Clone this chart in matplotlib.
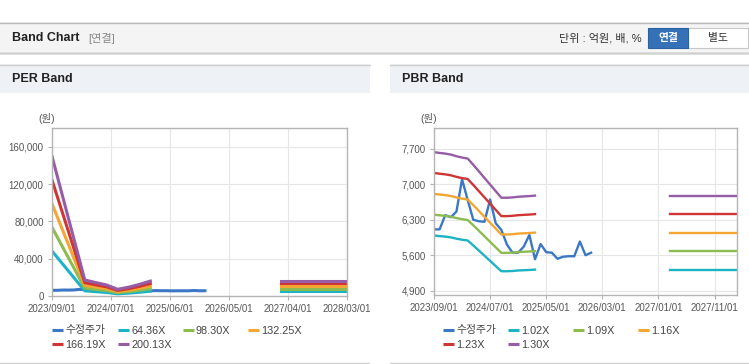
import matplotlib
matplotlib.use("Agg")
import matplotlib.pyplot as plt
from matplotlib.patches import Rectangle
from matplotlib.ticker import FuncFormatter

plt.rcParams['font.family'] = ['Liberation Sans', 'Noto Sans CJK KR']

# months counted from 2023/09
price_months = list(range(0, 29))
price = [6110, 6110, 6390, 6350, 6460, 7100, 6690, 6300, 6270, 6260,
         6700, 6230, 6100, 5810, 5650, 5650, 5770, 6000, 5520, 5820,
         5660, 5650, 5530, 5570, 5580, 5580, 5870, 5600, 5650]

# PER band: eps read at the band vertices
eps_months = [0, 6, 8, 10, 12, 14, 16, 18]
eps = [748, 86, 72, 59, 36, 47, 62, 80]
eps_fwd_months = [42, 54]
eps_fwd = [81, 81]
per_multiples = [64.36, 98.30, 132.25, 166.19, 200.13]
per_labels = ["64.36X", "98.30X", "132.25X", "166.19X", "200.13X"]

# PBR band: bps per month
bps_months = list(range(0, 19))
bps = [5872, 5860, 5850, 5835, 5810, 5790, 5775, 5680, 5580, 5480,
       5380, 5280, 5180, 5180, 5185, 5195, 5200, 5205, 5212]
bps_fwd_months = [42, 54]
bps_fwd = [5212, 5212]
pbr_multiples = [1.02, 1.09, 1.16, 1.23, 1.30]
pbr_labels = ["1.02X", "1.09X", "1.16X", "1.23X", "1.30X"]

per_ticks = [0, 10.8, 21.6, 32.4, 43.2, 54]
per_ticklabels = ["2023/09/01", "2024/07/01", "2025/06/01", "2026/05/01", "2027/04/01", "2028/03/01"]
pbr_ticks = [0, 10, 20, 30, 40, 50]
pbr_ticklabels = ["2023/09/01", "2024/07/01", "2025/05/01", "2026/03/01", "2027/01/01", "2027/11/01"]

price_color = "#3a78c6"
band_colors = ["#1db3c4", "#8cbb4f", "#f3a632", "#cf3535", "#965ca6"]

W, H = 749, 364
fig = plt.figure(figsize=(W / 100, H / 100), dpi=100)
fig.patch.set_facecolor("white")

# background axes in pixel coords
bg = fig.add_axes([0, 0, 1, 1])
bg.set_xlim(0, W)
bg.set_ylim(H, 0)
bg.axis("off")

# header bar
bg.add_patch(Rectangle((0, 52), W, 3, color="#e2e2e2", lw=0))
bg.add_patch(Rectangle((0, 22), W, 30, facecolor="#f4f4f4", edgecolor="none"))
bg.plot([0, W], [22.5, 22.5], color="#b8b8b8", lw=1)
bg.plot([0, W], [52.5, 52.5], color="#cfcfcf", lw=1)
bg.text(12, 38, "Band Chart", fontsize=9, fontweight="bold", color="#222", va="center")
bg.text(88, 38.5, "[연결]", fontsize=8, color="#888", va="center")
bg.text(642, 38.5, "단위 : 억원, 배, %", fontsize=8, color="#333", va="center", ha="right")
bg.add_patch(Rectangle((688, 28), 60, 20, facecolor="white", edgecolor="#c8c8c8", lw=0.8))
bg.add_patch(Rectangle((648, 28), 40, 20, facecolor="#3471b6", edgecolor="#2b619e", lw=0.8))
bg.text(668, 38.5, "연결", fontsize=7.8, fontweight="bold", color="white", ha="center", va="center")
bg.text(718, 38.5, "별도", fontsize=7.8, color="#333", ha="center", va="center")

# panel title bars
for x0, x1, title in [(0, 370, "PER Band"), (390, W, "PBR Band")]:
    bg.add_patch(Rectangle((x0, 64), x1 - x0, 29, facecolor="#eef1f6", edgecolor="none"))
    bg.plot([x0, x1], [64.5, 64.5], color="#d0d0d0", lw=1)
    bg.plot([x0, x1], [362.5, 362.5], color="#d0d0d0", lw=1)
    bg.text(x0 + 12, 79, title, fontsize=9, fontweight="bold", color="#222", va="center")

bg.text(47, 118, "(원)", fontsize=7.5, color="#555", ha="center", va="center")
bg.text(429, 118, "(원)", fontsize=7.5, color="#555", ha="center", va="center")


def legend(x_starts, y_rows, labels, colors):
    for i, (lab, col) in enumerate(zip(labels, colors)):
        x = x_starts[i % 4]
        y = y_rows[i // 4]
        bg.plot([x, x + 11], [y, y], color=col, lw=2.2, solid_capstyle="butt")
        bg.text(x + 13, y + 0.5, lab, fontsize=7.8, color="#444", va="center")


def style_axes(ax, ticks, ticklabels):
    ax.set_xlim(0, 54)
    ax.set_xticks(ticks)
    ax.set_xticklabels(ticklabels)
    ax.grid(True, color="#e6e6e6", lw=0.8)
    ax.set_axisbelow(True)
    for s in ax.spines.values():
        s.set_color("#b4b4b4")
        s.set_linewidth(1)
    ax.tick_params(axis="both", length=3, color="#b4b4b4", labelsize=7, labelcolor="#555", pad=3)
    ax.set_facecolor("white")


def px_axes(x0, y0, x1, y1):
    return fig.add_axes([x0 / W, 1 - y1 / H, (x1 - x0) / W, (y1 - y0) / H])


# PER chart
ax1 = px_axes(52, 128, 347, 296)
ax1.plot(price_months, price, color=price_color, lw=2.2)
for m, col in zip(per_multiples, band_colors):
    ax1.plot(eps_months, [e * m for e in eps], color=col, lw=2.2)
    ax1.plot(eps_fwd_months, [e * m for e in eps_fwd], color=col, lw=2.2)
ax1.set_ylim(0, 180000)
ax1.set_yticks([0, 40000, 80000, 120000, 160000])
ax1.yaxis.set_major_formatter(FuncFormatter(lambda v, p: f"{int(v):,}"))
style_axes(ax1, per_ticks, per_ticklabels)

# PBR chart
ax2 = px_axes(434, 128, 737, 295)
ax2.plot(price_months, price, color=price_color, lw=1.7)
for m, col in zip(pbr_multiples, band_colors):
    ax2.plot(bps_months, [b * m for b in bps], color=col, lw=1.7)
    ax2.plot(bps_fwd_months, [b * m for b in bps_fwd], color=col, lw=1.7)
ax2.set_ylim(4815, 8110)
ax2.set_yticks([4900, 5600, 6300, 7000, 7700])
ax2.yaxis.set_major_formatter(FuncFormatter(lambda v, p: f"{int(v):,}"))
style_axes(ax2, pbr_ticks, pbr_ticklabels)

legend([52, 118, 183, 248], [330, 344], ["수정주가"] + per_labels, [price_color] + band_colors)
legend([443, 508, 573, 638], [330, 344], ["수정주가"] + pbr_labels, [price_color] + band_colors)

# the left panel cuts its last date label at its right edge
fig.add_artist(Rectangle((370 / W, 0), 20 / W, (H - 100) / H, transform=fig.transFigure,
                         facecolor="white", edgecolor="none", zorder=10))

fig.savefig("out.png", dpi=100)
